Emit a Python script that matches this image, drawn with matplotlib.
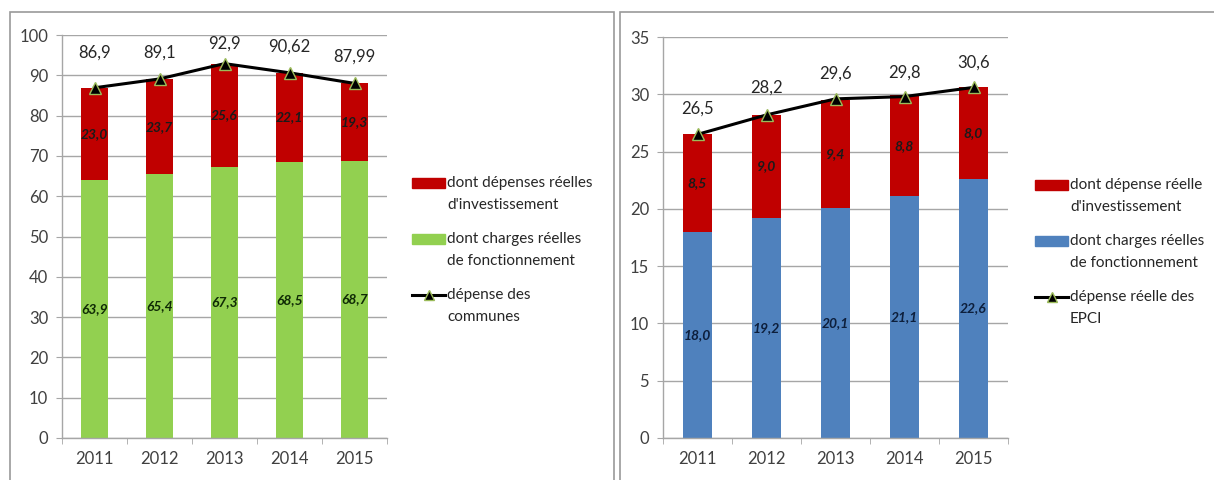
import matplotlib
matplotlib.use("Agg")
import matplotlib.pyplot as plt
from matplotlib.patches import Rectangle, Patch
from matplotlib.lines import Line2D
from matplotlib.legend_handler import HandlerPatch, HandlerLine2D
from matplotlib.transforms import Affine2D
import numpy as np

plt.rcParams['font.family'] = ['Lato', 'DejaVu Sans']

years = ["2011", "2012", "2013", "2014", "2015"]

# Left chart: communes
com_fonct = [63.9, 65.4, 67.3, 68.5, 68.7]
com_invest = [23.0, 23.7, 25.6, 22.1, 19.3]
com_total = [86.9, 89.1, 92.9, 90.62, 87.99]
com_total_labels = ["86,9", "89,1", "92,9", "90,62", "87,99"]

# Right chart: EPCI
epci_fonct = [18.0, 19.2, 20.1, 21.1, 22.6]
epci_invest = [8.5, 9.0, 9.4, 8.8, 8.0]
epci_total = [26.5, 28.2, 29.6, 29.8, 30.6]
epci_total_labels = ["26,5", "28,2", "29,6", "29,8", "30,6"]

RED = "#C00000"
GREEN = "#92D050"
BLUE = "#4F81BD"
GRID = "#A6A6A6"
TXT = "#404040"

HANDLE_DY = 8.0  # points: align legend handle with first text line


class UpPatch(HandlerPatch):
    def create_artists(self, legend, orig_handle, xdescent, ydescent, width, height,
                       fontsize, trans):
        arts = super().create_artists(legend, orig_handle, xdescent, ydescent, width,
                                      height, fontsize, trans)
        for a in arts:
            a.set_transform(Affine2D().translate(0, HANDLE_DY) + trans)
        return arts


class UpLine(HandlerLine2D):
    def create_artists(self, legend, orig_handle, xdescent, ydescent, width, height,
                       fontsize, trans):
        arts = super().create_artists(legend, orig_handle, xdescent, ydescent, width,
                                      height, fontsize, trans)
        for a in arts:
            a.set_transform(Affine2D().translate(0, HANDLE_DY) + trans)
        return arts


fig = plt.figure(figsize=(12.14, 4.8), dpi=100)

# panel frames
fig.patches.append(Rectangle((10/1214, -0.1), (614-10)/1214, 1.1 - 12/480,
                             transform=fig.transFigure, fill=False, edgecolor="#9a9a9a", lw=1.2))
fig.patches.append(Rectangle((620/1214, -0.1), 1.0, 1.1 - 12/480,
                             transform=fig.transFigure, fill=False, edgecolor="#9a9a9a", lw=1.2))


def fmt(v):
    return f"{v:.1f}".replace(".", ",")


def draw(ax, fonct, invest, total, total_labels, lower_color, ymax, ystep, width,
         low_lbl_color, offsets):
    x = np.arange(len(years))
    ax.bar(x, fonct, width=width, color=lower_color, zorder=2)
    ax.bar(x, invest, bottom=fonct, width=width, color=RED, zorder=2)
    ax.plot(x, total, color="black", lw=2.2, marker="^", markersize=8.5,
            markerfacecolor="black", markeredgecolor="#9BBB59", markeredgewidth=1, zorder=4)
    for i in range(len(x)):
        ax.text(x[i], fonct[i] / 2, fmt(fonct[i]), ha="center", va="center",
                fontsize=10, fontweight="bold", fontstyle="italic", color=low_lbl_color, zorder=5)
        ax.text(x[i], fonct[i] + invest[i] / 2, fmt(invest[i]), ha="center", va="center",
                fontsize=10, fontweight="bold", fontstyle="italic", color="#1a1a1a", zorder=5)
        ax.annotate(total_labels[i], (x[i], total[i]), xytext=(0, offsets[i]),
                    textcoords="offset pixels", ha="center", va="center",
                    fontsize=12, color="#262626", zorder=5)
    ax.set_xlim(-0.5, len(x) - 0.5)
    ax.set_ylim(0, ymax)
    ax.set_yticks(np.arange(0, ymax + 0.01, ystep))
    ax.set_yticklabels([str(int(v)) for v in np.arange(0, ymax + 0.01, ystep)])
    ax.set_xticks(x)
    ax.set_xticklabels(years)
    ax.set_xticks(np.arange(-0.5, len(x)), minor=True)
    ax.tick_params(axis="x", which="major", length=0, pad=9, labelsize=12, labelcolor=TXT)
    ax.tick_params(axis="x", which="minor", length=4, color=GRID, direction="out")
    ax.tick_params(axis="y", length=4, color=GRID, labelsize=12, labelcolor=TXT, pad=6)
    ax.grid(axis="y", color=GRID, lw=1, zorder=0)
    ax.set_axisbelow(True)
    for s in ["top", "right"]:
        ax.spines[s].set_visible(False)
    for s in ["left", "bottom"]:
        ax.spines[s].set_color(GRID)
        ax.spines[s].set_linewidth(1)


ax1 = fig.add_axes([62/1214, 42/480, 325/1214, 403/480])
draw(ax1, com_fonct, com_invest, com_total, com_total_labels, GREEN, 100, 10, 0.42,
     "#0f2a05", [35, 26, 20, 26, 27])

ax2 = fig.add_axes([663/1214, 42/480, 345/1214, 401/480])
draw(ax2, epci_fonct, epci_invest, epci_total, epci_total_labels, BLUE, 35, 5, 0.41,
     "#0d1f3c", [26, 27, 25, 24, 25])

leg_kw = dict(loc="upper left", bbox_transform=fig.transFigure, frameon=False,
              fontsize=11, handlelength=2.2, handleheight=0.6, handletextpad=0.1,
              labelspacing=1.3, labelcolor="#262626",
              handler_map={Patch: UpPatch(), Line2D: UpLine()})

h1 = [Patch(color=RED), Patch(color=GREEN),
      Line2D([], [], color="black", lw=2.2, marker="^", markersize=7, markerfacecolor="black",
             markeredgecolor="#9BBB59")]
leg1 = ax1.legend(h1, ["dont dépenses réelles\nd'investissement",
                       "dont charges réelles\nde fonctionnement",
                       "dépense des\ncommunes"],
                  bbox_to_anchor=(398/1214, 1 - 162/480), **leg_kw)

h2 = [Patch(color=RED), Patch(color=BLUE),
      Line2D([], [], color="black", lw=2.2, marker="^", markersize=7, markerfacecolor="black",
             markeredgecolor="#9BBB59")]
leg2 = ax2.legend(h2, ["dont dépense réelle\nd'investissement",
                       "dont charges réelles\nde fonctionnement",
                       "dépense réelle des\nEPCI"],
                  bbox_to_anchor=(1021/1214, 1 - 164/480), **leg_kw)

for leg in (leg1, leg2):
    for t in leg.get_texts():
        t.set_linespacing(1.75)

fig.savefig("out.png", dpi=100)
